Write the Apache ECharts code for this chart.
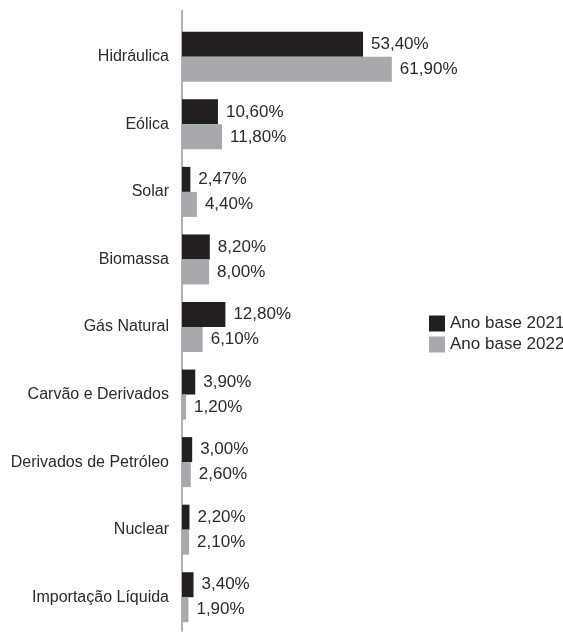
<!DOCTYPE html>
<html>
<head>
<meta charset="utf-8">
<script src="https://cdn.jsdelivr.net/npm/echarts@6/dist/echarts.min.js"></script>
<style>
html, body { margin: 0; padding: 0; background: #fff; }
#chart { width: 563px; height: 637px; }
</style>
</head>
<body>
<div id="chart"></div>
<script>
var categories = ['Hidráulica', 'Eólica', 'Solar', 'Biomassa', 'Gás Natural',
    'Carvão e Derivados', 'Derivados de Petróleo', 'Nuclear', 'Importação Líquida'];
var seriesNames = ['Ano base 2021', 'Ano base 2022'];
var values2021 = [53.4, 10.6, 2.47, 8.2, 12.8, 3.9, 3.0, 2.2, 3.4];
var values2022 = [61.9, 11.8, 4.4, 8.0, 6.1, 1.2, 2.6, 2.1, 1.9];

var FONT = '"Liberation Sans", Arial, sans-serif';

function fmt(p) {
    return p.value.toFixed(2).replace('.', ',') + '%';
}

var myChart = echarts.init(document.getElementById('chart'));
var labelStyle = {
    show: true,
    position: 'right',
    distance: 8,
    formatter: fmt,
    color: '#2b2b2b',
    fontSize: 17,
    fontFamily: FONT
};
var option = {
    animation: false,
    backgroundColor: '#fff',
    textStyle: { fontFamily: FONT },
    legend: {
        data: seriesNames,
        orient: 'vertical',
        left: 424,
        top: 310,
        itemWidth: 16,
        itemHeight: 16,
        itemGap: 4,
        icon: 'rect',
        textStyle: { color: '#2b2b2b', fontSize: 17, fontFamily: FONT, lineHeight: 16 }
    },
    grid: { left: 182, right: 42, top: 23, bottom: 6, outerBoundsMode: 'none', containLabel: false },
    xAxis: {
        type: 'value',
        min: 0,
        max: 100,
        show: false
    },
    yAxis: {
        type: 'category',
        data: categories,
        inverse: true,
        axisLine: { lineStyle: { color: '#999999', width: 1.5 } },
        axisTick: { show: false },
        axisLabel: { color: '#2b2b2b', fontSize: 16, fontFamily: FONT, margin: 13 }
    },
    graphic: [{
        type: 'line',
        shape: { x1: 182, y1: 10, x2: 182, y2: 23 },
        style: { stroke: '#999999', lineWidth: 1.5 }
    }],
    series: [{
        name: seriesNames[0],
        type: 'bar',
        data: values2021,
        barWidth: 25,
        barGap: '0%',
        itemStyle: { color: '#231f20' },
        label: labelStyle
    }, {
        name: seriesNames[1],
        type: 'bar',
        data: values2022,
        barWidth: 25,
        itemStyle: { color: '#a7a9ac' },
        label: labelStyle
    }]
};
myChart.setOption(option);
</script>
</body>
</html>
